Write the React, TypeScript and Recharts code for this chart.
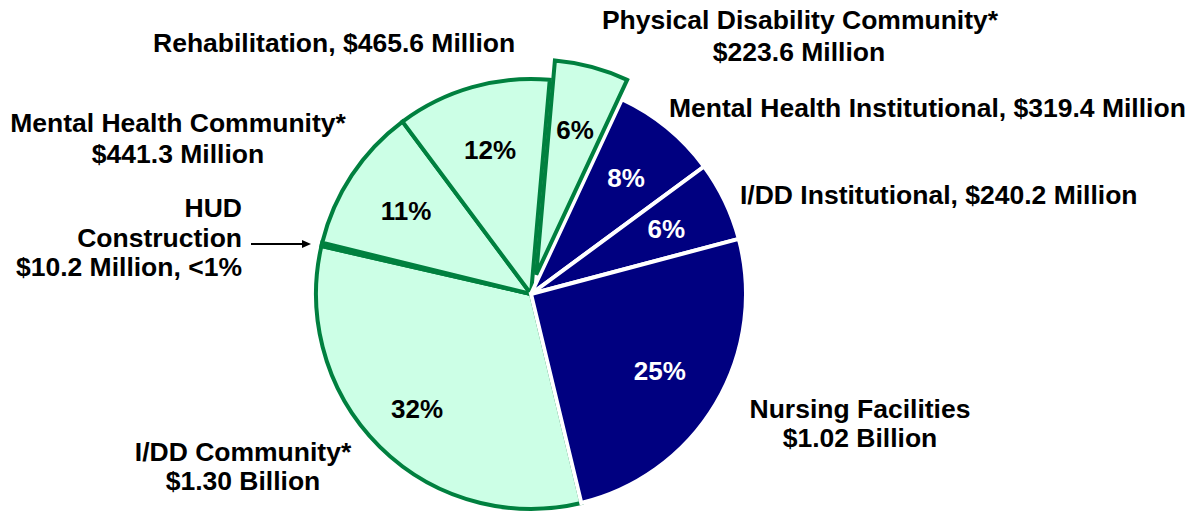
import React from 'react';
import { PieChart, Pie, Cell } from 'recharts';

// ---- data ----
const categories = [
  'Physical Disability Community',
  'Mental Health Institutional',
  'I/DD Institutional',
  'Nursing Facilities',
  'I/DD Community',
  'HUD Construction',
  'Mental Health Community',
  'Rehabilitation',
];
const valuesMillions = [223.6, 319.4, 240.2, 1020, 1300, 10.2, 441.3, 465.6];
const sectorGroup = [
  'community',
  'institutional',
  'institutional',
  'institutional',
  'community',
  'community',
  'community',
  'community',
];
const explodedCategory = 'Physical Disability Community';
const noPercentLabel = ['HUD Construction'];

const pieData = categories.map((name, i) => ({
  name,
  value: valuesMillions[i],
  group: sectorGroup[i],
}));

// ---- styles ----
const FONT = '"Liberation Sans", Arial, Helvetica, sans-serif';
const NAVY = '#000080';
const MINT = '#CCFFE6';
const GREEN = '#00803F';
const CX = 531;
const CY = 294;
const R = 215;
const START = 85;
const EXPLODE = 20;
const RADIAN = Math.PI / 180;

type Layer = 'community' | 'institutional' | 'exploded';

function isVisible(layer: Layer, i: number) {
  const d = pieData[i];
  if (layer === 'exploded') return d.name === explodedCategory;
  if (d.name === explodedCategory) return false;
  return d.group === layer;
}

function makeLabel(layer: Layer) {
  return (props: any) => {
    const { cx, cy, midAngle, percent, index } = props;
    if (!isVisible(layer, index)) return null;
    const name = pieData[index].name;
    if (noPercentLabel.includes(name)) return null;
    const r = name === 'I/DD Community' ? 162 : 150;
    const x = cx + r * Math.cos(-midAngle * RADIAN);
    const y = cy + r * Math.sin(-midAngle * RADIAN);
    return (
      <text
        key={`lbl-${layer}-${index}`}
        x={x}
        y={y}
        fill={layer === 'institutional' ? '#ffffff' : '#000000'}
        textAnchor="middle"
        dominantBaseline="central"
        fontFamily={FONT}
        fontWeight="bold"
        fontSize={26}
      >
        {`${Math.round(percent * 100)}%`}
      </text>
    );
  };
}

function cellStyle(layer: Layer, i: number) {
  if (!isVisible(layer, i)) {
    return { fill: 'transparent', stroke: 'none', strokeWidth: 0 };
  }
  if (layer === 'institutional') {
    return { fill: NAVY, stroke: '#ffffff', strokeWidth: 4 };
  }
  return { fill: MINT, stroke: GREEN, strokeWidth: 4 };
}

const explodeMid = (START - (valuesMillions[0] / valuesMillions.reduce((a, b) => a + b, 0)) * 180) * RADIAN;
const EX_CX = CX + EXPLODE * Math.cos(explodeMid);
const EX_CY = CY - EXPLODE * Math.sin(explodeMid);

const textStyle: React.CSSProperties = {
  fontFamily: FONT,
  fontWeight: 'bold',
  fontSize: 26.5,
  fill: '#000',
};

export default function App() {
  const layers: { layer: Layer; cx: number; cy: number }[] = [
    { layer: 'community', cx: CX, cy: CY },
    { layer: 'institutional', cx: CX, cy: CY },
    { layer: 'exploded', cx: EX_CX, cy: EX_CY },
  ];
  return (
    <div style={{ position: 'absolute', left: 0, top: 0, width: 1203, height: 516, background: '#fff' }}>
      <PieChart width={1203} height={516} margin={{ top: 0, right: 0, bottom: 0, left: 0 }}>
        {layers.map(({ layer, cx, cy }) => (
          <Pie
            key={layer}
            data={pieData}
            dataKey="value"
            nameKey="name"
            cx={cx}
            cy={cy}
            innerRadius={0}
            outerRadius={R}
            startAngle={START}
            endAngle={START - 360}
            isAnimationActive={false}
            labelLine={false}
            label={makeLabel(layer)}
          >
            {pieData.map((d, i) => {
              const s = cellStyle(layer, i);
              return <Cell key={d.name} fill={s.fill} stroke={s.stroke} strokeWidth={s.strokeWidth} />;
            })}
          </Pie>
        ))}
      </PieChart>
      <svg
        width={1203}
        height={516}
        style={{ position: 'absolute', left: 0, top: 0, pointerEvents: 'none' }}
      >
        <text style={textStyle} x={800} y={29} textAnchor="middle">Physical Disability Community*</text>
        <text style={textStyle} x={799} y={61} textAnchor="middle">$223.6 Million</text>

        <text style={textStyle} x={153} y={52} textAnchor="start">Rehabilitation, $465.6 Million</text>

        <text style={textStyle} x={669} y={117} textAnchor="start">Mental Health Institutional, $319.4 Million</text>

        <text style={textStyle} x={740} y={204} textAnchor="start">I/DD Institutional, $240.2 Million</text>

        <text style={textStyle} x={860} y={418} textAnchor="middle">Nursing Facilities</text>
        <text style={textStyle} x={860} y={447} textAnchor="middle">$1.02 Billion</text>

        <text style={textStyle} x={243} y={461} textAnchor="middle">I/DD Community*</text>
        <text style={textStyle} x={243} y={490} textAnchor="middle">$1.30 Billion</text>

        <text style={textStyle} x={178} y={132} textAnchor="middle">Mental Health Community*</text>
        <text style={textStyle} x={178} y={163} textAnchor="middle">$441.3 Million</text>

        <text style={textStyle} x={242} y={217} textAnchor="end">HUD</text>
        <text style={textStyle} x={242} y={247} textAnchor="end">Construction</text>
        <text style={textStyle} x={242} y={276} textAnchor="end">$10.2 Million, &lt;1%</text>

        <line x1={251} y1={244} x2={303} y2={244} stroke="#000" strokeWidth={2} />
        <polygon points="302,240 311,244 302,248" fill="#000" />
      </svg>
    </div>
  );
}
